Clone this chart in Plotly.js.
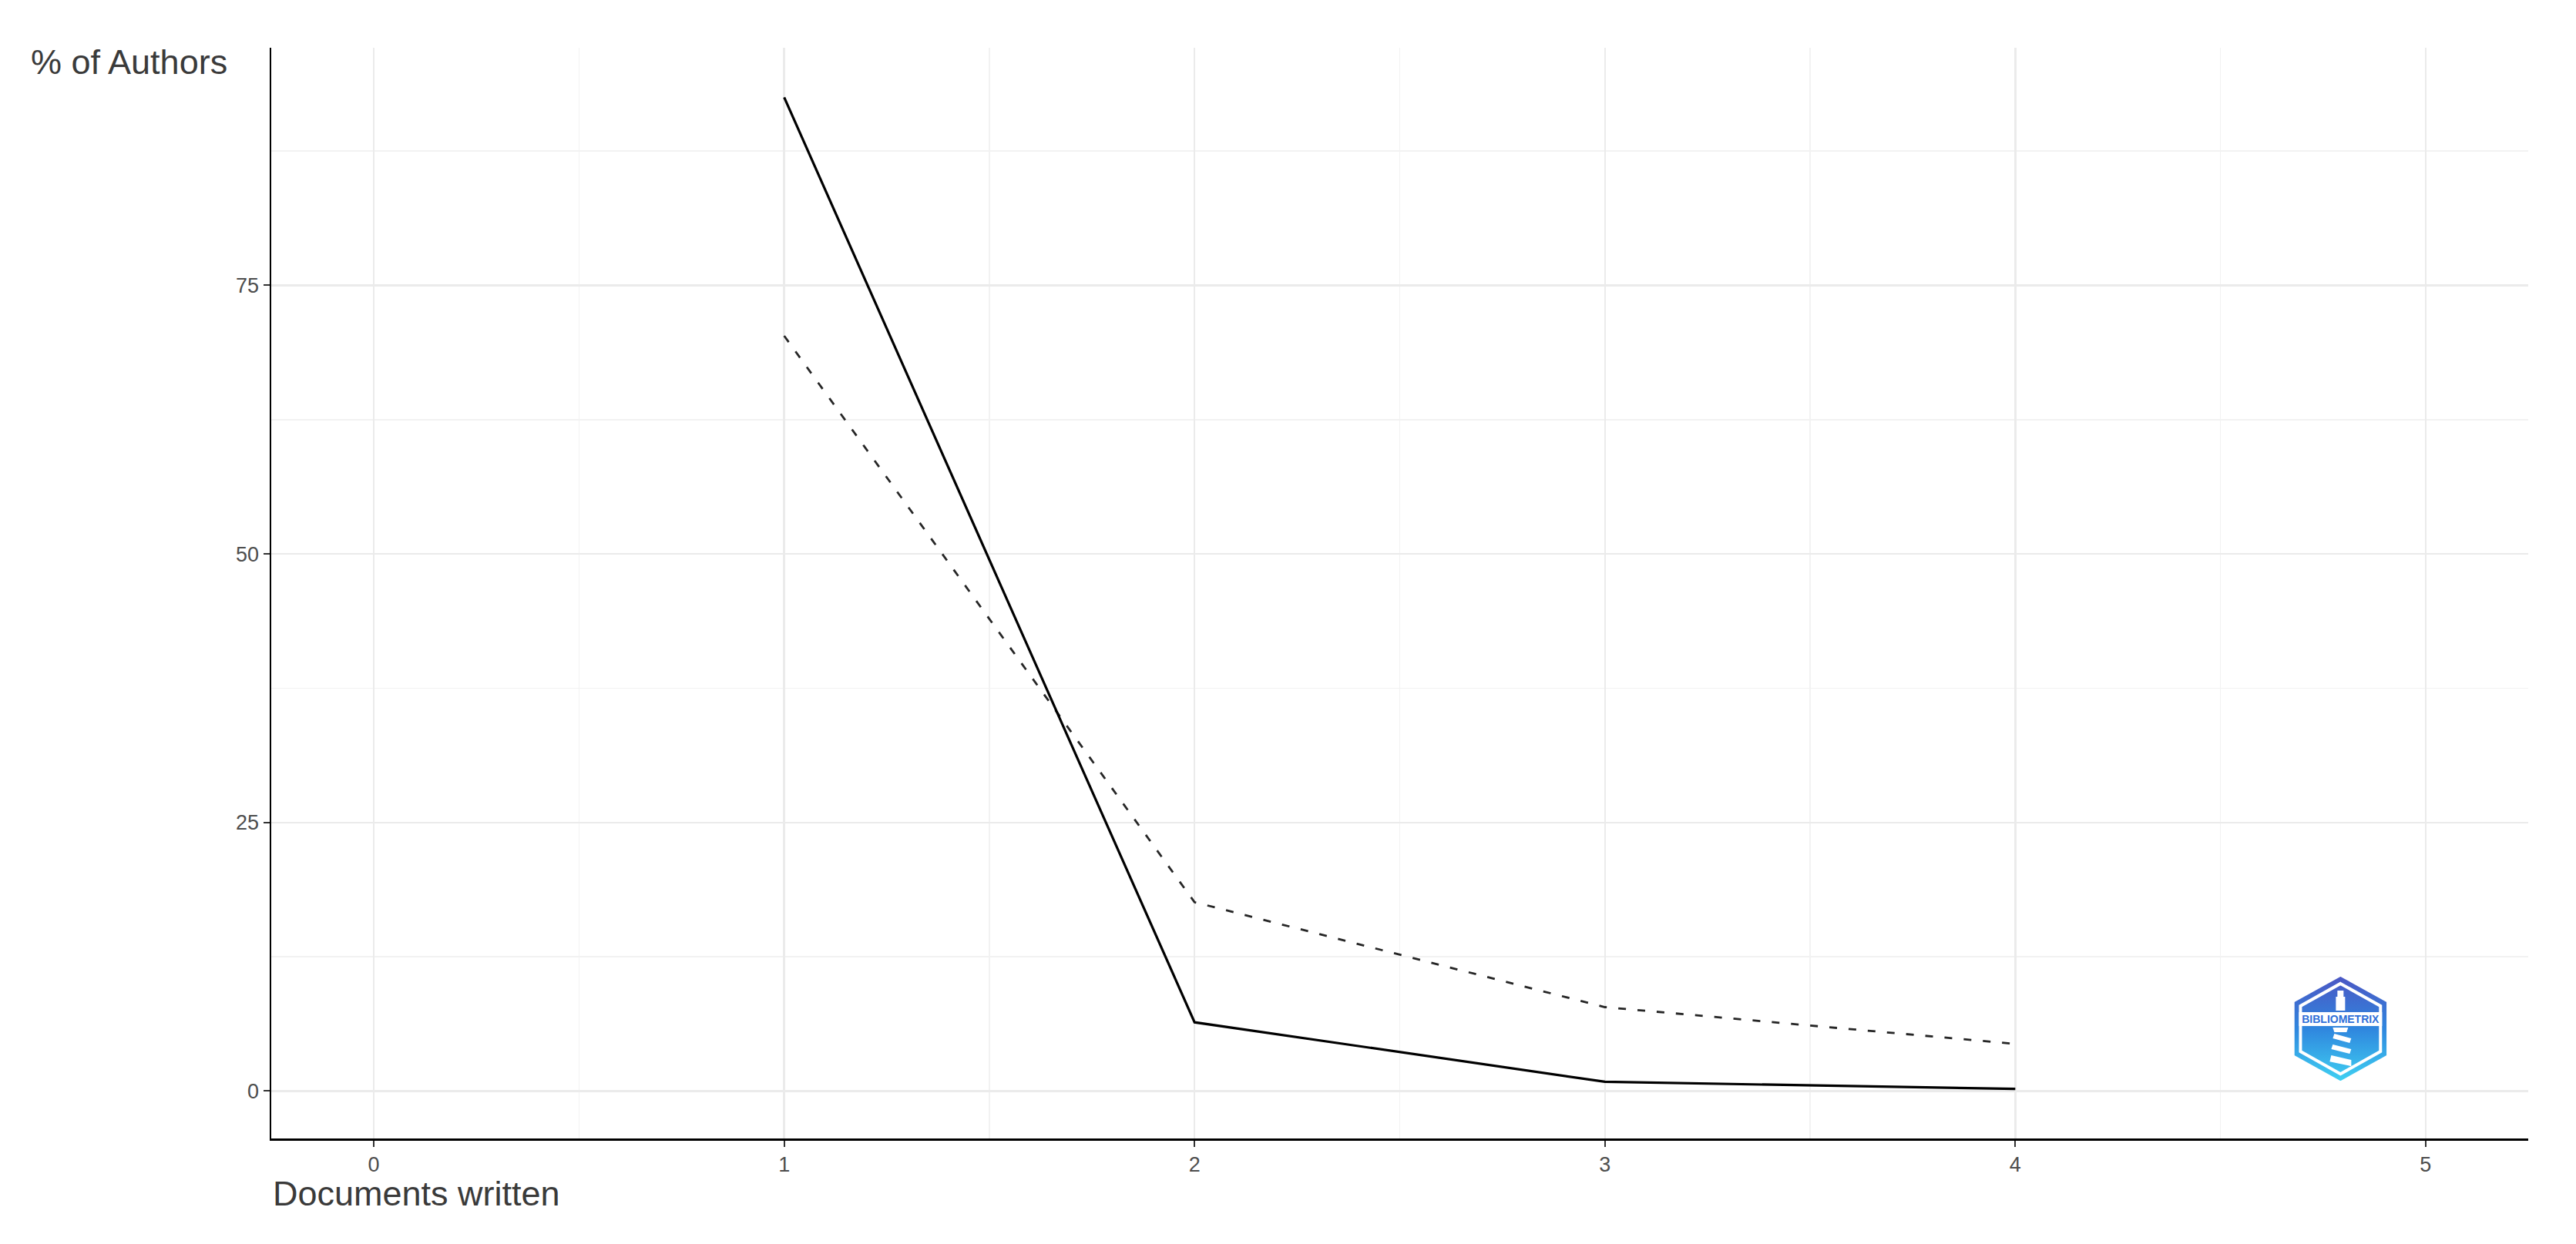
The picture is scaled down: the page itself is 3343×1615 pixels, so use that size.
<!DOCTYPE html>
<html>
<head>
<meta charset="utf-8">
<script src="https://cdn.plot.ly/plotly-3.0.1.min.js"></script>
<style>
  html, body { margin: 0; padding: 0; background: #fff; }
  #chart { width: 3343px; height: 1615px; }
</style>
</head>
<body>
<div id="chart"></div>
<script>
// Lotka's law: observed vs theoretical share of authors
const docsWritten = [1, 2, 3, 4];
const observedPct = [92.5, 6.4, 0.86, 0.2];
const theoreticalPct = [70.3, 17.58, 7.81, 4.39];

const xTickVals = [0, 1, 2, 3, 4, 5];
const yTickVals = [0, 25, 50, 75];

const xTitle = 'Documents written';
const yTitle = '% of Authors';

const baseFont = 'Liberation Sans, Arial, sans-serif';

// small bibliometrix badge, drawn as an inline svg
const logoSvg =
  '<svg xmlns="http://www.w3.org/2000/svg" width="120" height="135" viewBox="0 0 120 135">' +
  '<defs><linearGradient id="g" x1="0" y1="0" x2="0" y2="1">' +
  '<stop offset="0" stop-color="#4b57c4"/><stop offset="0.5" stop-color="#2f86de"/>' +
  '<stop offset="1" stop-color="#3fd0f2"/></linearGradient></defs>' +
  '<polygon points="60,0 120,33 120,102 60,135 0,102 0,33" fill="url(#g)"/>' +
  '<polygon points="60,9 112,38 112,97 60,126 8,97 8,38" fill="none" stroke="#fff" stroke-width="4"/>' +
  '<rect x="6" y="46" width="108" height="18" fill="#fff"/>' +
  '<text x="60" y="60" text-anchor="middle" font-family="Liberation Sans, Arial" font-weight="bold" font-size="14" fill="#2f6fd8">BIBLIOMETRIX</text>' +
  '<path d="M54 26 L66 26 L66 44 L54 44 Z M56 18 L64 18 L64 26 L56 26 Z" fill="#fff"/>' +
  '<path d="M50 66 L70 66 L68 72 L52 72 Z" fill="#fff"/>' +
  '<path d="M52 74 L74 80 L72 86 L50 80 Z M50 88 L74 94 L72 100 L48 94 Z M48 102 L74 108 L74 116 L46 110 Z" fill="#fff"/>' +
  '</svg>';
const logoSrc = 'data:image/svg+xml;charset=utf-8,' + encodeURIComponent(logoSvg);

const traces = [
  {
    x: docsWritten,
    y: theoreticalPct,
    type: 'scatter',
    mode: 'lines',
    name: 'Theoretical',
    line: { color: '#262626', width: 2.8, dash: '10px,15px' },
    hoverinfo: 'skip'
  },
  {
    x: docsWritten,
    y: observedPct,
    type: 'scatter',
    mode: 'lines',
    name: 'Observed',
    line: { color: '#000000', width: 3.2 },
    hoverinfo: 'skip'
  }
];

const axisCommon = {
  showline: true,
  linecolor: '#000000',
  linewidth: 2.5,
  mirror: false,
  ticks: 'outside',
  ticklen: 8,
  tickwidth: 2,
  tickcolor: '#333333',
  tickfont: { family: baseFont, size: 27, color: '#4d4d4d' },
  showgrid: true,
  gridcolor: '#ebebeb',
  gridwidth: 2.5,
  zeroline: false
};

const layout = {
  width: 3343,
  height: 1615,
  margin: { l: 352, r: 62, t: 62, b: 137 },
  paper_bgcolor: '#ffffff',
  plot_bgcolor: '#ffffff',
  showlegend: false,
  xaxis: Object.assign({}, axisCommon, {
    range: [-0.25, 5.25],
    tickmode: 'array',
    tickvals: xTickVals,
    ticktext: xTickVals.map(String),
    minor: { tick0: 0, dtick: 0.5, showgrid: true, gridcolor: '#f2f2f2', gridwidth: 1.6, ticks: '' }
  }),
  yaxis: Object.assign({}, axisCommon, {
    range: [-4.415, 97.115],
    tickmode: 'array',
    tickvals: yTickVals,
    ticktext: yTickVals.map(String),
    minor: { tick0: 0, dtick: 12.5, showgrid: true, gridcolor: '#f2f2f2', gridwidth: 1.6, ticks: '' }
  }),
  annotations: [
    {
      text: yTitle,
      xref: 'paper', yref: 'paper',
      x: -0.1072, y: 0.9866,
      xanchor: 'left', yanchor: 'middle',
      showarrow: false,
      font: { family: baseFont, size: 45, color: '#3a3a3a' }
    },
    {
      text: xTitle,
      xref: 'paper', yref: 'paper',
      x: 0, y: -0.0508,
      xanchor: 'left', yanchor: 'middle',
      showarrow: false,
      font: { family: baseFont, size: 45, color: '#3a3a3a' }
    }
  ],
  images: [
    {
      source: logoSrc,
      xref: 'x', yref: 'y',
      x: 4.68, y: 10.65,
      sizex: 0.225, sizey: 9.7,
      xanchor: 'left', yanchor: 'top',
      sizing: 'stretch',
      layer: 'above'
    }
  ]
};

Plotly.newPlot('chart', traces, layout, { displayModeBar: false, staticPlot: true });
</script>
</body>
</html>
